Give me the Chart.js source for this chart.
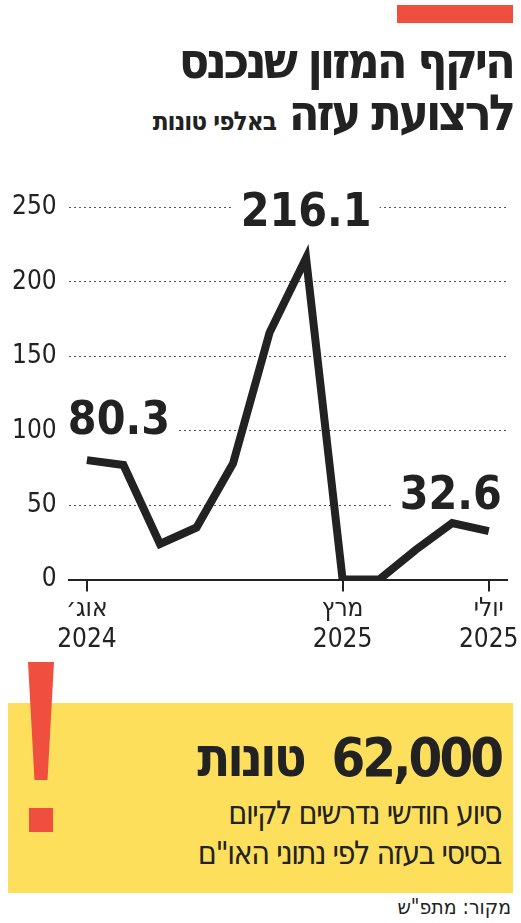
<!DOCTYPE html>
<html><head><meta charset="utf-8">
<script src="https://cdn.jsdelivr.net/npm/chart.js@4"></script>
<style>
body{margin:0;width:521px;height:923px;background:#fff;position:relative;overflow:hidden;font-family:"DejaVu Sans Condensed","DejaVu Sans",sans-serif}
.t{position:absolute;right:8px;direction:rtl;font-weight:bold;color:#222;white-space:nowrap}
</style></head><body>
<div style="position:absolute;left:397px;top:5px;width:116px;height:18px;background:#f04e3e"></div>
<div class="t" style="top:34px;font-size:50px;letter-spacing:-3px;line-height:54px">היקף המזון שנכנס</div>
<div class="t" style="top:86px;font-size:50px;letter-spacing:-3px;line-height:54px">לרצועת עזה <span style="font-size:26px;letter-spacing:-1px">באלפי טונות</span></div>
<div style="position:absolute;left:0;top:180px;width:521px;height:478px"><canvas id="c"></canvas></div>
<div style="position:absolute;left:8px;top:703px;width:505px;height:190px;background:#fddf5c"></div>
<div style="position:absolute;left:28px;top:662px;width:26px;height:118px;background:#f04e3e;clip-path:polygon(0 0,100% 0,75% 100%,25% 100%)"></div>
<div style="position:absolute;left:29px;top:808px;width:24px;height:24px;background:#f04e3e"></div>
<div class="t" style="top:726px;right:20px;font-size:54px;letter-spacing:-3px;color:#222">62,000&nbsp; טונות</div>
<div class="t" style="top:794px;right:20px;font-size:32px;font-weight:normal;letter-spacing:-1.5px">סיוע חודשי נדרשים לקיום</div>
<div class="t" style="top:834px;right:20px;font-size:32px;font-weight:normal;letter-spacing:-1.5px">בסיסי בעזה לפי נתוני האו"ם</div>
<div class="t" style="top:895px;right:10px;font-size:21px;font-weight:normal">מקור: מתפ"ש</div>
<script>
const months = ['אוג׳','ספט׳','אוק׳','נוב׳','דצמ׳','ינו׳','פבר׳','מרץ','אפר׳','מאי','יוני','יולי'];
const tickLabels = [['אוג׳','2024'],'','','','','','',['מרץ','2025'],'','','',['יולי','2025']];
const food = [80.3, 77, 24, 35, 78, 166, 216.1, 0, 0, 20, 38, 32.6];
const labelled = [0, 6, 11];
const yTicks = [0, 50, 100, 150, 200, 250];

const valueLabels = {
  id: 'valueLabels',
  afterDatasetsDraw(chart) {
    const ctx = chart.ctx, pts = chart.getDatasetMeta(0).data;
    ctx.save();
    ctx.font = 'bold 46px "DejaVu Sans Condensed"';
    ctx.textAlign = 'center'; ctx.textBaseline = 'alphabetic';
    labelled.forEach(i => {
      const p = pts[i];
      let x = p.x, y = p.y - 24;
      if (i === 0) { x = p.x + 32; y = p.y - 26; }
      if (i === 6) { y = chart.scales.y.getPixelForValue(250) + 18; }
      if (i === 11) { x = p.x - 38; y = p.y - 22; }
      const w = ctx.measureText(food[i].toFixed(1)).width;
      ctx.fillStyle = '#fff';
      ctx.fillRect(x - w/2 - 8, y - 38, w + 16, 42);
      ctx.fillStyle = '#222';
      ctx.fillText(food[i].toFixed(1), x, y);
    });
    ctx.restore();
  }
};

new Chart(document.getElementById('c'), {
  type: 'line',
  data: { labels: months, datasets: [{ data: food, borderColor: '#222', borderWidth: 8, pointRadius: 0, tension: 0, borderJoinStyle: 'miter', fill: false }] },
  options: {
    responsive: true, maintainAspectRatio: false, animation: false,
    layout: { padding: { top: 13, right: 12, left: 0, bottom: 0 } },
    plugins: { legend: { display: false }, tooltip: { enabled: false } },
    scales: {
      x: {
        offset: true,
        border: { color: '#222', width: 2 },
        grid: { drawOnChartArea: false, offset: false, tickLength: 12, lineWidth: 2,
          color: c => tickLabels[c.index] ? '#222' : 'rgba(0,0,0,0)' },
        ticks: { autoSkip: false, maxRotation: 0, color: '#222', font: { family: 'DejaVu Sans Condensed', size: 26 }, padding: 2,
          callback: (v, i) => tickLabels[i] }
      },
      y: {
        min: 0, max: 250,
        afterBuildTicks: s => { s.ticks = yTicks.map(v => ({ value: v })); },
        border: { display: false, dash: [2, 3] },
        grid: { color: '#555', lineWidth: 1, drawTicks: false },
        ticks: { color: '#222', font: { family: 'DejaVu Sans Condensed', size: 26 }, padding: 12 }
      }
    }
  },
  plugins: [valueLabels]
});
</script>
</body></html>
